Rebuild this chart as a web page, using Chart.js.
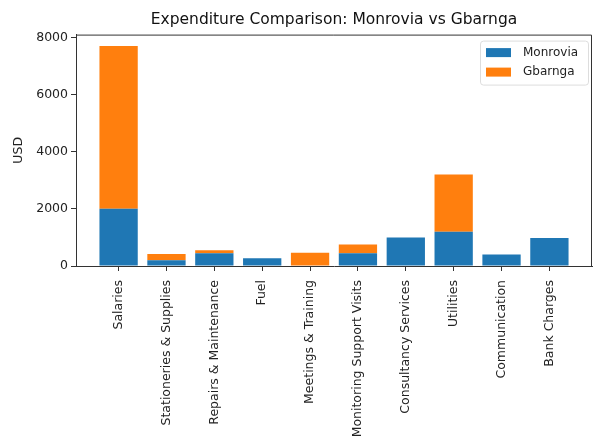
<!DOCTYPE html>
<html>
<head>
<meta charset="utf-8">
<script src="https://cdn.jsdelivr.net/npm/chart.js@4.4.0/dist/chart.umd.min.js"></script>
<style>
  body { margin: 0; background: #fff; }
  #wrap { width: 595px; height: 439px; position: relative; }
</style>
</head>
<body>
<div id="wrap"><canvas id="chart"></canvas></div>
<script>
// data
const categories = ['Salaries', 'Stationeries & Supplies', 'Repairs & Maintenance', 'Fuel',
  'Meetings & Training', 'Monitoring Support Visits', 'Consultancy Services', 'Utilities',
  'Communication', 'Bank Charges'];
const monrovia = [2000, 200, 450, 270, 0, 450, 1000, 1200, 400, 980];
const gbarnga = [5700, 220, 100, 0, 460, 300, 0, 2000, 0, 0];
const yTicks = [0, 2000, 4000, 6000, 8000];

const font = 'DejaVu Sans';
const ink = '#333';

// top and right spines, like matplotlib
const frame = {
  id: 'frame',
  afterDraw(chart) {
    const a = chart.chartArea, c = chart.ctx;
    c.save();
    c.strokeStyle = ink;
    c.lineWidth = 1;
    c.beginPath();
    c.moveTo(a.left, a.top + 0.5);
    c.lineTo(a.right - 0.5, a.top + 0.5);
    c.lineTo(a.right - 0.5, a.bottom);
    c.stroke();
    c.restore();
  }
};

// legend box in the upper right corner
const boxLegend = {
  id: 'boxLegend',
  afterDraw(chart) {
    const a = chart.chartArea, c = chart.ctx;
    const sets = chart.data.datasets;
    const w = 108, h = 44;
    const x = a.right - 4 - w, y = a.top + 6;
    c.save();
    c.fillStyle = 'rgba(255,255,255,0.8)';
    c.strokeStyle = '#ddd';
    c.lineWidth = 1;
    c.beginPath();
    c.roundRect(x + 0.5, y + 0.5, w, h, 3);
    c.fill();
    c.stroke();
    c.font = '12px "' + font + '"';
    c.textBaseline = 'middle';
    sets.forEach((ds, i) => {
      const cy = y + 12 + i * 19.5;
      c.fillStyle = ds.backgroundColor;
      c.fillRect(x + 6, cy - 4.5, 25, 9);
      c.fillStyle = '#222';
      c.fillText(ds.label, x + 43, cy);
    });
    c.restore();
  }
};

new Chart(document.getElementById('chart'), {
  type: 'bar',
  data: {
    datasets: [
      {
        label: 'Monrovia',
        data: monrovia.map((v, i) => ({ x: i, y: v })),
        backgroundColor: '#1f77b4'
      },
      {
        label: 'Gbarnga',
        data: gbarnga.map((v, i) => ({ x: i, y: v })),
        backgroundColor: '#ff7f0e'
      }
    ]
  },
  options: {
    responsive: true,
    maintainAspectRatio: false,
    animation: false,
    barPercentage: 0.8,
    categoryPercentage: 1,
    layout: { padding: { left: 0, right: 3, top: 0, bottom: 0 } },
    plugins: {
      legend: { display: false },
      tooltip: { enabled: false },
      title: {
        display: true,
        fullSize: false,
        text: 'Expenditure Comparison: Monrovia vs Gbarnga',
        color: '#111',
        font: { family: font, size: 15.5, weight: 'normal' },
        padding: { top: 11, bottom: 5 }
      }
    },
    scales: {
      x: {
        type: 'linear',
        offset: false,
        stacked: true,
        min: -0.89,
        max: 9.89,
        afterFit(s) { s.height = 173; },
        afterBuildTicks(s) { s.ticks = categories.map((c, i) => ({ value: i })); },
        grid: { offset: false, drawOnChartArea: false, color: ink, tickLength: 5 },
        border: { color: ink },
        ticks: {
          autoSkip: false,
          maxRotation: 90,
          minRotation: 90,
          padding: 9,
          color: '#222',
          font: { family: font, size: 12.5 },
          callback: (v) => categories[v]
        }
      },
      y: {
        stacked: true,
        min: 0,
        max: 8095,
        afterFit(s) { s.width = 76; },
        afterBuildTicks(s) { s.ticks = yTicks.map(v => ({ value: v })); },
        grid: { drawOnChartArea: false, color: ink, tickLength: 5 },
        border: { color: ink },
        title: {
          display: true,
          text: 'USD',
          color: '#222',
          font: { family: font, size: 12.5 },
          padding: { top: 11, bottom: 0 }
        },
        ticks: {
          padding: 3,
          color: '#222',
          font: { family: font, size: 12.5 },
          callback: (v) => String(v)
        }
      }
    }
  },
  plugins: [frame, boxLegend]
});
</script>
</body>
</html>
